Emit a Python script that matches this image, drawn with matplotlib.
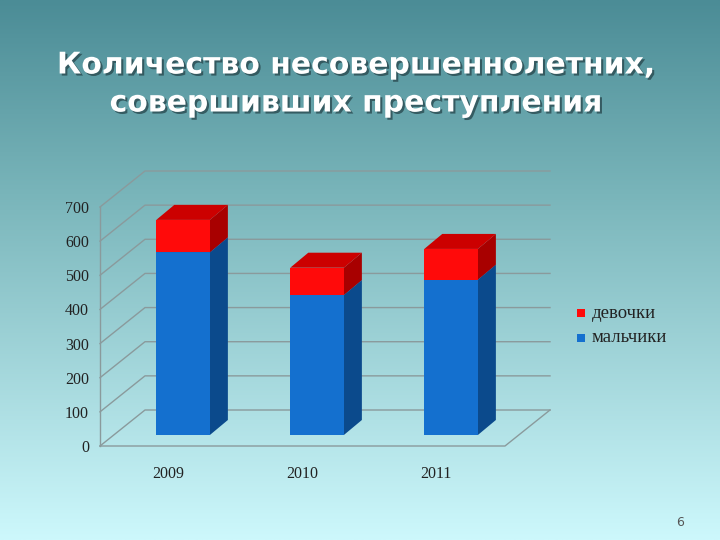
import matplotlib
matplotlib.use("Agg")
import matplotlib.pyplot as plt
import numpy as np
from matplotlib.patches import Polygon
from matplotlib.transforms import IdentityTransform
import matplotlib.patheffects as pe

years = ["2009", "2010", "2011"]
boys = [535, 410, 455]
girls = [95, 80, 90]
yticks = [0, 100, 200, 300, 400, 500, 600, 700]

W, H = 720, 540
fig = plt.figure(figsize=(7.2, 5.4), dpi=100)

bg = fig.add_axes([0, 0, 1, 1], zorder=-10)
t = np.linspace(0, 1, 256)[:, None]
top = np.array([75, 140, 150]) / 255
mid = np.array([120, 180, 185]) / 255
bot = np.array([205, 248, 252]) / 255
col = np.where(t < 0.35, top + (mid - top) * (t / 0.35), mid + (bot - mid) * ((t - 0.35) / 0.65))
img = np.repeat(col[:, None, :], 2, axis=1).reshape(256, 2, 3)
bg.imshow(img, aspect="auto", extent=[0, 1, 0, 1])
bg.axis("off")

def fy(py):
    return 1 - py / H

ax = fig.add_axes([100 / W, fy(446), 405 / W, (446 - 207) / H])
ax.set_xlim(-0.62, -0.62 + 405 / 134)
ax.set_ylim(0, 700)
ax.patch.set_alpha(0)
for s in ax.spines.values():
    s.set_visible(False)
ax.set_xticks([])
ax.set_yticks(yticks)
ax.tick_params(axis="y", length=0, pad=8, labelsize=11.5, labelcolor="#222")
for lab in ax.get_yticklabels():
    lab.set_family("Liberation Serif")

DX, DY = 45, 36
gline = dict(color="#8a9a9c", lw=1.0, transform=IdentityTransform(), clip_on=False)

def disp(x, y):
    return ax.transData.transform((x, y))

x0, x1 = ax.get_xlim()
for v in yticks:
    a = disp(x0, v); b = disp(x1, v)
    ax.add_line(plt.Line2D([a[0], a[0] + DX, b[0] + DX], [a[1], a[1] + DY, a[1] + DY], **gline))
a = disp(x0, 0); b = disp(x1, 0)
ax.add_line(plt.Line2D([a[0], b[0], b[0] + DX], [a[1], b[1], b[1] + DY], **gline))
ax.add_line(plt.Line2D([a[0], a[0]], [a[1], disp(x0, 700)[1]], **gline))

BW = 0.4
OFF = 11
SDX, SDY = 18, 15

def box(xc, y0, y1, cf, cs, ct, z):
    l = disp(xc - BW / 2, y0); r = disp(xc + BW / 2, y1)
    L, R = l[0], r[0]
    B, T = l[1] + OFF, r[1] + OFF
    front = [(L, B), (R, B), (R, T), (L, T)]
    side = [(R, B), (R + SDX, B + SDY), (R + SDX, T + SDY), (R, T)]
    topf = [(L, T), (R, T), (R + SDX, T + SDY), (L + SDX, T + SDY)]
    for pts, c in [(side, cs), (front, cf), (topf, ct)]:
        ax.add_patch(Polygon(pts, closed=True, facecolor=c, edgecolor="none",
                             transform=IdentityTransform(), clip_on=False, zorder=z))

for i, (b_, g_) in enumerate(zip(boys, girls)):
    box(i, 0, b_, "#1470cf", "#0b4a8c", "#1565b8", 3)
    box(i, b_, b_ + g_, "#ff0a0a", "#a80000", "#cc0000", 4)
    fig.text((183 + 134 * i - 15) / W, fy(474), years[i], ha="center", va="center",
             fontsize=11.5, family="Liberation Serif", color="#222")

for py, c, lab in [(313, "#ff0a0a", "девочки"), (338, "#1470cf", "мальчики")]:
    fig.patches.append(plt.Rectangle((577 / W, fy(py + 4)), 8 / W, 8 / H, facecolor=c,
                                     transform=fig.transFigure))
    fig.text(592 / W, fy(py), lab, ha="left", va="center", fontsize=13.5,
             family="Liberation Serif", color="#222")

for py, line in [(65, "Количество несовершеннолетних,"), (103, "совершивших преступления")]:
    fig.text(356 / W, fy(py), line, ha="center", va="center", fontsize=21.5, fontweight="bold",
             color="white", family="DejaVu Sans",
             path_effects=[pe.withSimplePatchShadow(offset=(1.5, -1.5), shadow_rgbFace="#2a4a50", alpha=0.8)])

fig.text(680 / W, fy(523), "6", ha="center", va="center", fontsize=9, color="#555")

fig.savefig("out.png", dpi=100)
